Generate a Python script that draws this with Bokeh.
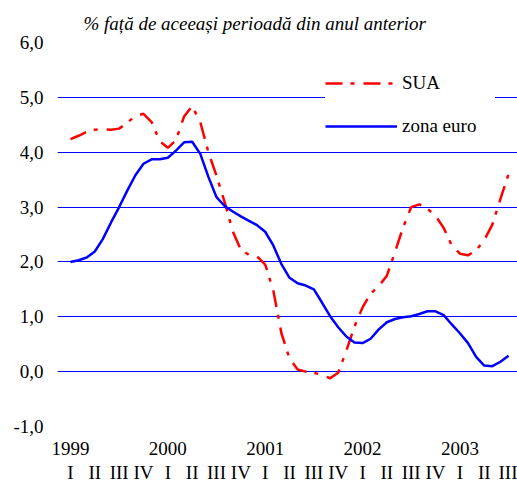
from bokeh.plotting import figure
from bokeh.models import Range1d, FixedTicker, LinearAxis, Legend, LegendItem
from bokeh.embed import file_html
from bokeh.resources import INLINE

# month index, 0 = Jan 1999 (quarter I 1999), step of one month
luna = list(range(55))

sua = [4.24, 4.30, 4.37, 4.41, 4.42, 4.41, 4.43, 4.54, 4.66, 4.70, 4.55, 4.20,
       4.08, 4.22, 4.65, 4.84, 4.55, 4.00, 3.57, 3.09, 2.56, 2.22, 2.13, 2.10,
       1.95, 1.48, 0.70, 0.24, 0.04, 0.00, -0.02, -0.06, -0.12, -0.02, 0.38, 0.82,
       1.17, 1.42, 1.56, 1.75, 2.18, 2.63, 3.00, 3.05, 2.97, 2.84, 2.62, 2.30,
       2.15, 2.12, 2.21, 2.40, 2.68, 3.15, 3.60]

zona_euro = [2.00, 2.03, 2.08, 2.19, 2.42, 2.72, 3.00, 3.30, 3.58, 3.79, 3.87, 3.87,
             3.90, 4.03, 4.18, 4.19, 3.97, 3.55, 3.18, 3.02, 2.92, 2.83, 2.75, 2.67,
             2.55, 2.30, 1.96, 1.71, 1.61, 1.57, 1.50, 1.26, 1.01, 0.81, 0.64, 0.53,
             0.52, 0.60, 0.77, 0.90, 0.96, 0.99, 1.01, 1.05, 1.10, 1.10, 1.03, 0.86,
             0.70, 0.52, 0.27, 0.11, 0.10, 0.18, 0.29]

y_ticks = [-1, 0, 1, 2, 3, 4, 5, 6]
y_labels = ["-1,0", "0,0", "1,0", "2,0", "3,0", "4,0", "5,0", "6,0"]
ani = ["1999", "2000", "2001", "2002", "2003"]
trimestre = ["I", "II", "III", "IV"] * 4 + ["I", "II", "III"]

titlu = "% față de aceeași perioadă din anul anterior"

FONT = "'Liberation Serif'"

p = figure(width=517, height=486, output_backend="svg", toolbar_location=None,
           x_range=Range1d(-1.6, 55.1), y_range=Range1d(-1, 6),
           x_axis_location=None, min_border_left=57, min_border_right=0,
           min_border_top=42, min_border_bottom=60)
p.outline_line_color = None
p.background_fill_color = "white"

p.title.text = titlu
p.title.text_font = FONT
p.title.text_font_style = "italic"
p.title.text_font_size = "19px"
p.title.text_color = "black"
p.title.align = "left"
p.title.offset = 26
p.title.standoff = 18

# y axis
yax = p.yaxis[0]
yax.ticker = FixedTicker(ticks=y_ticks)
yax.major_label_overrides = {t: l for t, l in zip(y_ticks, y_labels)}
yax.axis_line_color = None
yax.major_tick_line_color = None
yax.minor_tick_line_color = None
yax.major_tick_in = 0
yax.major_tick_out = 0
yax.major_label_standoff = 14
yax.major_label_text_font = FONT
yax.major_label_text_font_size = "19px"
yax.major_label_text_color = "black"

p.ygrid.ticker = FixedTicker(ticks=y_ticks)
p.ygrid.grid_line_color = "#0000FF"
p.ygrid.grid_line_width = 1
p.xgrid.visible = False

# year axis and quarter axis
year_ticks = [i * 12 for i in range(len(ani))]
ax_y = LinearAxis(ticker=FixedTicker(ticks=year_ticks),
                  major_label_overrides={t: l for t, l in zip(year_ticks, ani)})
quarter_ticks = [i * 3 for i in range(len(trimestre))]
ax_q = LinearAxis(ticker=FixedTicker(ticks=quarter_ticks),
                  major_label_overrides={t: l for t, l in zip(quarter_ticks, trimestre)})
for ax, st in ((ax_y, 15), (ax_q, 4)):
    ax.axis_line_color = None
    ax.major_tick_line_color = None
    ax.minor_tick_line_color = None
    ax.major_tick_in = 0
    ax.major_tick_out = 0
    ax.major_label_standoff = st
    ax.major_label_text_font = FONT
    ax.major_label_text_font_size = "19px"
    ax.major_label_text_color = "black"
p.add_layout(ax_y, "below")
p.add_layout(ax_q, "below")

r_sua = p.line(luna, sua, line_color="#FF0000", line_width=2.5, line_dash="17 8 4 9")
r_eu = p.line(luna, zona_euro, line_color="#0000FF", line_width=2.5)

legend = Legend(items=[LegendItem(label="SUA", renderers=[r_sua]),
                       LegendItem(label="zona euro", renderers=[r_eu])],
                location=(268, 289))
legend.glyph_width = 72
legend.glyph_height = 20
legend.label_height = 20
legend.label_width = 93
legend.label_standoff = 5
legend.spacing = 21
legend.padding = 12
legend.margin = 0
legend.border_line_color = None
legend.background_fill_color = "white"
legend.background_fill_alpha = 1.0
legend.label_text_font = FONT
legend.label_text_font_size = "19px"
legend.label_text_color = "black"
p.add_layout(legend)

open("out.html", "w").write(file_html(p, INLINE))
